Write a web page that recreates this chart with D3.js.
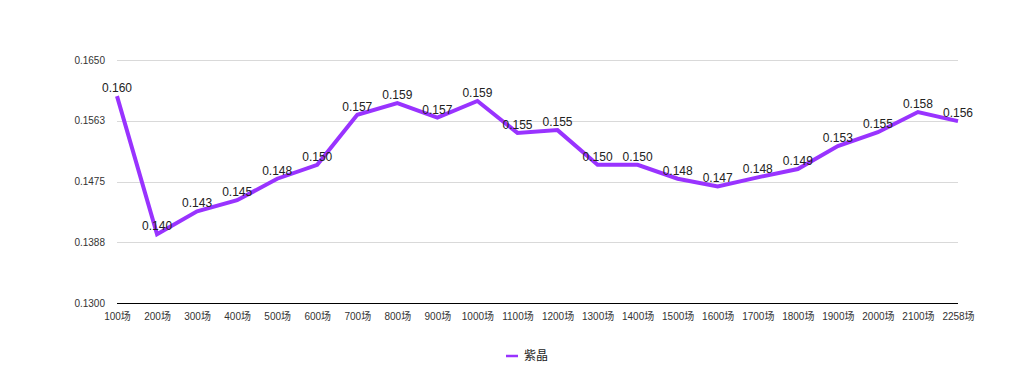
<!DOCTYPE html>
<html>
<head>
<meta charset="utf-8">
<script src="https://cdn.jsdelivr.net/npm/d3@7"></script>
<style>
  body { margin: 0; background: #fff; }
  text { font-family: Arial, "Liberation Sans", "Noto Sans CJK SC", sans-serif; }
</style>
</head>
<body>
<div class="chart"></div>
<script>
'use strict';

var categories = ['100场', '200场', '300场', '400场', '500场', '600场', '700场', '800场', '900场', '1000场',
  '1100场', '1200场', '1300场', '1400场', '1500场', '1600场', '1700场', '1800场', '1900场', '2000场',
  '2100场', '2258场'];

var values = [0.1598, 0.1399, 0.1432, 0.1448, 0.1479, 0.1499, 0.1571, 0.1588, 0.1567, 0.1591,
  0.1545, 0.1549, 0.1499, 0.1499, 0.1479, 0.1468, 0.1481, 0.1493, 0.1526, 0.1546,
  0.1575, 0.1562];

var labels = ['0.160', '0.140', '0.143', '0.145', '0.148', '0.150', '0.157', '0.159', '0.157', '0.159',
  '0.155', '0.155', '0.150', '0.150', '0.148', '0.147', '0.148', '0.149', '0.153', '0.155',
  '0.158', '0.156'];

var yTicks = [0.13, 0.13875, 0.1475, 0.15625, 0.165];
var seriesName = '紫晶';

var width = 1020, height = 367;
var margin = {top: 60, right: 62, bottom: 64, left: 117};
var color = '#9933ff';

var svg = d3.select('.chart').append('svg')
  .attr('width', width)
  .attr('height', height);

var x = d3.scalePoint()
  .domain(categories)
  .range([margin.left, width - margin.right]);

var y = d3.scaleLinear()
  .domain([0.13, 0.165])
  .range([height - margin.bottom, margin.top]);

// grid lines
svg.append('g')
  .selectAll('line')
  .data(yTicks.slice(1))
  .enter().append('line')
    .attr('x1', margin.left)
    .attr('x2', width - margin.right)
    .attr('y1', function(d) { return Math.round(y(d)) + 0.5; })
    .attr('y2', function(d) { return Math.round(y(d)) + 0.5; })
    .style('stroke', '#d9d9d9')
    .style('stroke-width', 1);

// y axis labels
var yAxis = d3.axisLeft(y)
  .tickValues(yTicks)
  .tickSize(0)
  .tickPadding(12)
  .tickFormat(d3.format('.4f'));

svg.append('g')
  .attr('transform', 'translate(' + margin.left + ',0)')
  .call(yAxis)
  .call(function(g) { g.select('.domain').remove(); })
  .selectAll('text')
    .style('font-size', '10px')
    .style('fill', '#333');

// x axis
var xAxis = d3.axisBottom(x)
  .tickSize(0)
  .tickPadding(9);

svg.append('g')
  .attr('transform', 'translate(0,' + (Math.round(y(0.13)) + 0.5) + ')')
  .call(xAxis)
  .call(function(g) {
    g.select('.domain')
      .attr('d', 'M' + margin.left + ',0H' + (width - margin.right))
      .style('stroke', '#000')
      .style('stroke-width', 1.2);
  })
  .selectAll('text')
    .style('font-size', '10px')
    .style('fill', '#333');

// line
var line = d3.line()
  .x(function(d, i) { return x(categories[i]); })
  .y(function(d) { return y(d); });

svg.append('path')
  .datum(values)
  .attr('d', line)
  .style('fill', 'none')
  .style('stroke', color)
  .style('stroke-width', 4)
  .style('stroke-linejoin', 'miter');

// data labels
svg.append('g')
  .selectAll('text')
  .data(values)
  .enter().append('text')
    .attr('x', function(d, i) { return x(categories[i]); })
    .attr('y', function(d) { return y(d) - 4; })
    .attr('text-anchor', 'middle')
    .style('font-size', '12px')
    .style('fill', '#222')
    .text(function(d, i) { return labels[i]; });

// legend
var legend = svg.append('g')
  .attr('transform', 'translate(506,356)');

legend.append('line')
  .attr('x1', 0)
  .attr('x2', 12)
  .style('stroke', color)
  .style('stroke-width', 2.5);

legend.append('text')
  .attr('x', 18)
  .attr('dy', '0.35em')
  .style('font-size', '12px')
  .style('fill', '#222')
  .text(seriesName);
</script>
</body>
</html>
